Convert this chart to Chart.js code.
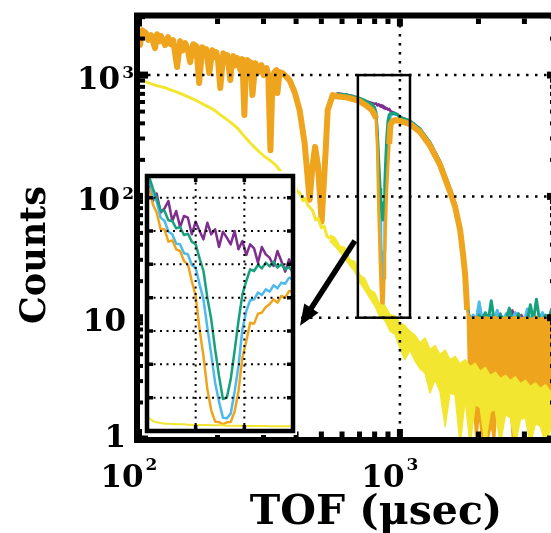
<!DOCTYPE html>
<html lang="en">
<head>
<meta charset="utf-8">
<title>TOF spectrum</title>
<script src="https://cdn.jsdelivr.net/npm/chart.js@4.4.0/dist/chart.umd.min.js"></script>
<style>
  html, body { margin: 0; padding: 0; overflow: hidden; background: #fff; }
  #wrap { position: relative; width: 551px; height: 533px; overflow: hidden; }
  #main { position: absolute; left: 0; top: 0; }
  #inset { position: absolute; left: 143px; top: 171px; }
</style>
</head>
<body>
<div id="wrap">
  <canvas id="main" width="562" height="533"></canvas>
  <canvas id="inset" width="154" height="264"></canvas>
</div>
<script>
// spectrum shared by the four sample curves (they sit on top of each other below ~550 us)
const tofSpec = [100, 100.9, 102.7, 106.4, 108.5, 111.2, 115.2, 117.3, 119.5, 121.5, 125.9, 129.3, 132, 135.2,
  140.0, 143.8, 147, 150.3, 153.5, 157.1, 161.3, 165.7, 170.1, 174.7, 177.5, 181.1, 185.9, 190.9, 193.5, 197.8,
  201, 204.9, 210.4, 214, 218.1, 223.9, 226.5, 229.9, 233.5, 238.2, 244.6, 249.0, 253.5, 256.5, 260.3, 263.5,
  267.3, 272.1, 279.4, 285.5, 294.6, 300.5, 308.0, 313, 319.0, 325, 330.5, 336.4, 339.4, 345.5, 354.8, 365,
  377.6, 394.7, 412.6, 431.2, 450.7, 462, 473, 485, 501.2, 519.4, 528.7, 552.6];
const countsSpec = [2259, 1766, 2344, 2216, 1950, 2134, 1668, 2175, 1900, 2094, 1766, 2055, 1800, 1941,
  1164, 1905, 1600, 1833, 1650, 1279, 1799, 1733, 859, 1700, 1450, 1637, 1039, 1606, 1400, 1546,
  1300, 782, 1517, 1300, 1461, 910, 1250, 1434, 1200, 1380, 1099, 1354, 469, 1150, 1329, 1100,
  1279, 685, 1255, 1050, 1209, 1000, 1142, 1000, 241, 950, 1058, 1099, 711, 1058, 1039, 980,
  910, 725, 515, 276, 94, 175, 256, 182, 62, 241, 515, 685];

// the resonance dip near 860 us, one curve per sample
const tofDip = [580, 620, 660, 700, 740, 780, 800, 810, 820, 830, 840, 845, 850, 855, 860, 865, 870, 875, 880, 890, 900, 910, 920, 940, 960, 980];
const orangeDip = [665, 655, 635, 610, 565, 515, 470, 440, 240, 70, 28, 19, 14, 11.5, 11, 14, 21, 33, 52, 110, 180, 270, 390, 420, 425, 422];
const blueDip = [690, 682, 662, 638, 600, 555, 525, 495, 300, 130, 65, 45, 30, 22, 19, 24, 35, 55, 85, 170, 290, 400, 460, 480, 478, 470];
const greenDip = [698, 688, 668, 645, 612, 575, 540, 480, 330, 190, 115, 94, 80, 70, 64, 72, 90, 125, 175, 300, 420, 470, 482, 485, 480, 472];
const purpleDip = [705, 692, 672, 640, 612, 590, 578, 585, 562, 575, 552, 566, 548, 560, 540, 552, 532, 545, 528, 536, 518, 526, 505, 495, 485, 475];

// falling edge after 1000 us
const tofShoulder = [1000, 1093, 1194, 1305, 1425, 1557, 1628, 1701, 1747, 1778, 1810];
const orangeShoulder = [420, 395, 340, 261, 182, 109, 82, 53, 33, 22.6, 11.6];
const upperShoulder = [450, 419, 360, 277, 193, 116, 87, 56, 35, 24, 12.3];

// noisy tail beyond the cut-off
const tofTail = [1810, 1858, 1909, 1960, 2013, 2067, 2123, 2181, 2239, 2299, 2361, 2425, 2490, 2557, 2626, 2697,
  2769, 2844, 2921, 2999, 3080, 3162, 3247, 3336, 3425, 3518, 3612, 3709, 3809, 3911, 4000];
const orangeTailTop = [11.6, 10, 9.8, 10.2, 10, 9.7, 10.1, 10, 9.8, 10.2, 10, 9.6, 10, 10.1, 9.8, 10,
  10.2, 9.7, 10, 9.9, 10.1, 9.7, 10, 10.2, 9.8, 10, 9.9, 10.1, 9.8, 10, 10];
const orangeTailBottom = [11.6, 1, 2.2, 0.9, 1.6, 0.9, 2.5, 1, 1.3, 0.9, 2, 1.1, 2.4, 1.7, 2.8, 1,
  2.3, 1.9, 2.6, 2.1, 2.4, 1.9, 2.2, 2.5, 2.0, 2.3, 1.9, 2.2, 2.4, 2.0, 2.2];
const blueTail = [12.3, 9.5, 10.5, 9.5, 13.5, 9.5, 9.8, 9.5, 10.5, 9.5, 11.5, 9.5, 9.8, 10.8, 9.5, 9.6,
  11, 9.5, 9.8, 9.5, 11.8, 9.5, 10.2, 9.5, 9.7, 11, 9.5, 9.8, 10.6, 9.5, 9.8];
const greenTail = [12.3, 9.5, 9.8, 9.5, 10.5, 9.5, 11, 9.5, 13.8, 9.5, 9.7, 10.6, 9.5, 9.8, 12, 9.5,
  9.6, 10.8, 9.5, 9.8, 9.5, 12.8, 9.5, 14.2, 9.6, 9.5, 10.5, 9.5, 11.5, 9.5, 10];
const purpleTail = [12.3, 9.5, 9.7, 9.5, 12.8, 9.5, 9.8, 10.5, 9.5, 9.7, 9.5, 10.8, 9.5, 9.6, 9.5, 11.5,
  9.5, 9.7, 10.5, 9.5, 9.6, 9.5, 10.8, 9.5, 9.7, 9.5, 10.2, 9.5, 11.8, 9.5, 9.7];

// open beam (yellow): clean line first, then a noisy band
const tofYellow = [100, 109.3, 118, 127, 138, 149, 160, 170.1, 182, 194.3, 205, 216.1, 227, 238.2, 251, 265,
  278, 292, 304, 316, 326, 336.4, 348, 362, 377.6, 386, 395, 404, 412.6, 425, 433, 445, 462, 475, 486, 500, 512, 525, 538.3];
const yellowCounts = [927, 859, 815, 782, 730, 685, 640, 600, 555, 515, 470, 434, 400, 366, 320, 281,
  252, 228, 212, 200, 190, 178, 162, 150, 137, 122, 126, 110, 107, 92, 96, 84, 77, 64, 66, 55, 57, 47, 45];
const tofBand = [538.3, 562.3, 587.9, 614.3, 642.4, 671.3, 702, 733.5, 766.8, 801.6, 837.8, 875.9, 915.3, 956.8,
  1000, 1045, 1093, 1142, 1194, 1248, 1305, 1363, 1425, 1490, 1557, 1628, 1701, 1778, 1858, 1943, 2031,
  2123, 2219, 2320, 2425, 2535, 2649, 2769, 2895, 3026, 3162, 3306, 3455, 3612, 3776, 3947, 4000];
const yellowBandTop = [48, 46, 39, 38, 30, 29, 22.6, 21, 17, 16, 12.8, 12.6, 10.6, 10.4,
  9.1, 8.6, 7.7, 7.2, 6.2, 6.8, 5.45, 5.9, 4.96, 5.4, 4.5, 4.8, 4.18, 4.5, 3.95, 4.2, 3.6,
  3.9, 3.33, 3.55, 3.15, 3.35, 3.03, 3.25, 2.86, 3.05, 2.7, 2.9, 2.61, 2.8, 2.46, 2.65, 2.41];
const yellowBandBottom = [43, 39, 35, 31, 27, 24, 19.5, 17, 14.5, 12.5, 10.2, 9.5, 7.8, 7.3,
  5.6, 4.5, 5.4, 4.4, 3.8, 3.5, 2.4, 3.1, 2.46, 1.27, 2.4, 2.3, 0.9, 2.11, 0.9, 1.92, 1.82,
  0.9, 1.68, 1.75, 0.9, 1.59, 1.5, 0.9, 1.45, 1.5, 0.9, 1.34, 1.27, 0.9, 1.2, 1.15, 1.15];

// inset: linear close-up of the dip
const insetTof = [792, 796, 800, 804, 808, 812, 816, 820, 824, 828, 832, 836, 840, 844, 848, 852, 856, 860, 864,
  868, 872, 876, 880, 884, 888, 892, 896, 900, 904, 908, 912, 916, 920, 924, 928, 932, 936, 940];
const insetOrange = [730, 680, 655, 605, 605, 568, 572, 545, 540, 510, 500, 450, 405, 305, 225, 125, 62, 28, 27,
  20, 26, 27, 58, 120, 220, 270, 325, 322, 352, 355, 372, 380, 395, 385, 405, 400, 420, 418];
const insetBlue = [755, 708, 688, 640, 630, 598, 590, 562, 560, 533, 530, 498, 490, 440, 395, 310, 230, 145, 88,
  40, 38, 52, 118, 195, 305, 360, 392, 395, 415, 408, 425, 418, 437, 428, 445, 442, 460, 455];
const insetGreen = [765, 728, 698, 662, 660, 632, 630, 608, 612, 588, 592, 568, 560, 518, 480, 400, 335, 245, 165,
  96, 100, 155, 240, 330, 410, 450, 485, 480, 498, 488, 505, 494, 508, 490, 500, 485, 492, 475];
const insetPurple = [740, 690, 712, 655, 668, 690, 630, 660, 612, 645, 640, 590, 628, 600, 575, 625, 590, 605, 552,
  598, 580, 560, 600, 545, 570, 528, 560, 548, 505, 552, 530, 520, 495, 540, 510, 478, 515, 490];
const insetYellow = [40, 30, 26, 24, 22, 22, 21, 20, 20, 20, 19, 19, 18, 18, 18, 18, 17, 17, 17,
  17, 16, 16, 16, 16, 16, 15, 15, 15, 15, 15, 15, 14, 14, 14, 14, 14, 14, 14];

const xTickValues = [100, 1000];
const xTickLabels = [['10', '2'], ['10', '3']];
const yTickValues = [1, 10, 100, 1000];
const yTickLabels = [['1', ''], ['10', ''], ['10', '2'], ['10', '3']];
const xTitle = 'TOF (\u03bcsec)';
const yTitle = 'Counts';

const ORANGE = '#EFA41E', BLUE = '#4DB9EC', GREEN = '#16A07B', PURPLE = '#7E2F8E', YELLOW = '#F2E630';
const SERIF = '"DejaVu Serif", "Liberation Serif", serif';

function pts(xs, ys) {
  return xs.map((v, i) => ({ x: v, y: ys[i] }));
}

function series(data, color, width, order, fill) {
  return {
    data: data, borderColor: color, backgroundColor: color, borderWidth: width,
    pointRadius: 0, tension: 0, order: order, fill: fill || false, borderJoinStyle: 'round'
  };
}

function drawPow(ctx, base, exp, x, baseline, supShift, align) {
  ctx.font = 'bold 31px ' + SERIF;
  const wb = ctx.measureText(base).width;
  ctx.font = 'bold 17px ' + SERIF;
  const we = exp ? ctx.measureText(exp).width + 2 : 0;
  let left;
  if (align === 'right') left = x - wb - we;
  else left = x - wb / 2;   // centred on the base digits
  ctx.textAlign = 'left';
  ctx.textBaseline = 'alphabetic';
  ctx.font = 'bold 31px ' + SERIF;
  ctx.fillText(base, left, baseline);
  if (exp) {
    ctx.font = 'bold 17px ' + SERIF;
    ctx.fillText(exp, left + wb + 2, baseline - supShift);
  }
}

const mainDecor = {
  id: 'mainDecor',
  afterDatasetsDraw(chart) {
    const ctx = chart.ctx, a = chart.chartArea, x = chart.scales.x, y = chart.scales.y;
    ctx.save();
    ctx.strokeStyle = '#000';
    ctx.fillStyle = '#000';

    // dotted grid on the decades
    ctx.lineWidth = 2.5;
    ctx.setLineDash([2.5, 6.5]);
    ctx.beginPath();
    [1000].forEach(v => { const p = x.getPixelForValue(v); ctx.moveTo(p, a.top); ctx.lineTo(p, a.bottom); });
    [10, 100, 1000].forEach(v => { const p = y.getPixelForValue(v); ctx.moveTo(a.left, p); ctx.lineTo(a.right, p); });
    ctx.stroke();
    ctx.setLineDash([]);

    // box around the zoomed region
    const bx0 = x.getPixelForValue(690), bx1 = x.getPixelForValue(1093);
    const by0 = y.getPixelForValue(1000), by1 = y.getPixelForValue(10);
    ctx.lineWidth = 2.5;
    ctx.strokeRect(bx0, by0, bx1 - bx0, by1 - by0);

    // arrow pointing at the inset
    const sx = x.getPixelForValue(672), sy = y.getPixelForValue(43);
    const tx = x.getPixelForValue(414), ty = y.getPixelForValue(8.6);
    const ang = Math.atan2(ty - sy, tx - sx), head = 21, half = 8.5;
    const c = Math.cos(ang), s = Math.sin(ang);
    ctx.lineWidth = 5.5;
    ctx.beginPath();
    ctx.moveTo(sx, sy);
    ctx.lineTo(tx - head * 0.8 * c, ty - head * 0.8 * s);
    ctx.stroke();
    ctx.beginPath();
    ctx.moveTo(tx, ty);
    ctx.lineTo(tx - head * c + half * s, ty - head * s - half * c);
    ctx.lineTo(tx - head * c - half * s, ty - head * s + half * c);
    ctx.closePath();
    ctx.fill();

    // heavy frame
    ctx.lineWidth = 6;
    ctx.strokeRect(a.left - 2, a.top - 0.5, a.right - a.left + 3, a.bottom - a.top + 1.5);

    // inward ticks
    const tick = (x0, y0, x1, y1, w) => {
      ctx.lineWidth = w;
      ctx.beginPath(); ctx.moveTo(x0, y0); ctx.lineTo(x1, y1); ctx.stroke();
    };
    for (let d = 100; d <= 1000; d *= 10) {
      for (let m = 1; m <= 9; m++) {
        const v = d * m;
        if (v >= 4000) break;
        const p = x.getPixelForValue(v);
        const len = m === 1 ? 8 : 5.5, w = m === 1 ? 6 : 5;
        tick(p, a.top + 2.5, p, a.top + 2.5 + len, w);
        tick(p, a.bottom - 2, p, a.bottom - 2 - len, w);
      }
    }
    for (let d = 1; d <= 1000; d *= 10) {
      for (let m = 1; m <= 9; m++) {
        const v = d * m;
        if (v > 3070) break;
        const p = y.getPixelForValue(v);
        const len = m === 1 ? 8 : 5, w = m === 1 ? 7 : 4;
        tick(a.left + 1, p, a.left + 1 + len, p, w);
        tick(a.right - 2, p, a.right - 2 - len, p, w);
      }
    }

    // tick labels
    yTickValues.forEach((v, i) => {
      const p = y.getPixelForValue(v);
      const lab = yTickLabels[i];
      const bl = v === 1 ? p + 8 : p + 13.5;
      drawPow(ctx, lab[0], lab[1], lab[1] ? 134 : 126, bl, 11, 'right');
    });
    xTickValues.forEach((v, i) => {
      const p = x.getPixelForValue(v);
      drawPow(ctx, xTickLabels[i][0], xTickLabels[i][1], p - 17, a.bottom + 48, 17, 'center');
    });

    // axis titles
    ctx.font = 'bold 41px ' + SERIF;
    ctx.textAlign = 'center';
    ctx.textBaseline = 'alphabetic';
    ctx.fillText(xTitle, 376, 524);
    ctx.translate(45, 255);
    ctx.rotate(-Math.PI / 2);
    ctx.font = 'bold 35px ' + SERIF;
    ctx.fillText(yTitle, 0, 0);
    ctx.restore();
  }
};

// the orange trace is drawn thin inside the narrow dip so the other samples show through
const orangeMain = series(pts(tofSpec, countsSpec).concat(pts(tofDip, orangeDip), pts(tofShoulder, orangeShoulder)), ORANGE, 6, 2);
orangeMain.segment = {
  borderWidth: ctx => (ctx.p0.parsed.x >= 805 && ctx.p1.parsed.x <= 915) ? 3 : undefined
};

new Chart(document.getElementById('main'), {
  type: 'line',
  data: {
    datasets: [
      series(pts(tofSpec, countsSpec).concat(pts(tofDip, purpleDip), pts(tofShoulder, upperShoulder), pts(tofTail, purpleTail)), PURPLE, 2.5, 5),
      series(pts(tofSpec, countsSpec).concat(pts(tofDip, blueDip), pts(tofShoulder, upperShoulder), pts(tofTail, blueTail)), BLUE, 3, 4),
      series(pts(tofSpec, countsSpec).concat(pts(tofDip, greenDip), pts(tofShoulder, upperShoulder), pts(tofTail, greenTail)), GREEN, 3, 3),
      orangeMain,
      series(pts(tofTail, orangeTailTop), ORANGE, 2, 2),
      series(pts(tofTail, orangeTailBottom), ORANGE, 1.5, 2, '-1'),
      series(pts(tofYellow, yellowCounts), YELLOW, 3, 1),
      series(pts(tofBand, yellowBandTop), YELLOW, 1.5, 1),
      series(pts(tofBand, yellowBandBottom), YELLOW, 1.5, 1, '-1')
    ]
  },
  options: {
    responsive: false,
    animation: false,
    devicePixelRatio: 1,
    events: [],
    layout: { padding: { left: 139, top: 16, right: 5, bottom: 94 } },
    scales: {
      x: { type: 'logarithmic', min: 100, max: 4000, display: false },
      y: { type: 'logarithmic', min: 1, max: 3070, display: false }
    },
    plugins: { legend: { display: false }, tooltip: { enabled: false } }
  },
  plugins: [mainDecor]
});

const insetDecor = {
  id: 'insetDecor',
  beforeDraw(chart) {
    const ctx = chart.ctx;
    ctx.save();
    ctx.fillStyle = '#fff';
    ctx.fillRect(0, 0, chart.width, chart.height);
    ctx.restore();
  },
  afterDatasetsDraw(chart) {
    const ctx = chart.ctx, a = chart.chartArea, x = chart.scales.x, y = chart.scales.y;
    const gx = [840, 890], gy = [100, 200, 300, 400, 500, 600, 700];
    ctx.save();
    ctx.strokeStyle = '#000';
    ctx.lineWidth = 2;
    ctx.setLineDash([2, 4.5]);
    ctx.beginPath();
    gx.forEach(v => { const p = x.getPixelForValue(v); ctx.moveTo(p, a.top); ctx.lineTo(p, a.bottom); });
    gy.forEach(v => { const p = y.getPixelForValue(v); ctx.moveTo(a.left, p); ctx.lineTo(a.right, p); });
    ctx.stroke();
    ctx.setLineDash([]);
    ctx.lineWidth = 4.5;
    ctx.strokeRect(a.left, a.top, a.right - a.left, a.bottom - a.top);
    ctx.lineWidth = 3.5;
    ctx.beginPath();
    gx.forEach(v => {
      const p = x.getPixelForValue(v);
      ctx.moveTo(p, a.top); ctx.lineTo(p, a.top + 6);
      ctx.moveTo(p, a.bottom); ctx.lineTo(p, a.bottom - 6);
    });
    gy.forEach(v => {
      const p = y.getPixelForValue(v);
      ctx.moveTo(a.left, p); ctx.lineTo(a.left + 6, p);
      ctx.moveTo(a.right, p); ctx.lineTo(a.right - 6, p);
    });
    ctx.stroke();
    ctx.restore();
  }
};

new Chart(document.getElementById('inset'), {
  type: 'line',
  data: {
    datasets: [
      series(pts(insetTof, insetPurple), PURPLE, 2.5, 5),
      series(pts(insetTof, insetBlue), BLUE, 2.5, 4),
      series(pts(insetTof, insetGreen), GREEN, 2.5, 3),
      series(pts(insetTof, insetOrange), ORANGE, 2.5, 2),
      series(pts(insetTof, insetYellow), YELLOW, 2, 1)
    ]
  },
  options: {
    responsive: false,
    animation: false,
    devicePixelRatio: 1,
    events: [],
    layout: { padding: { left: 4, top: 5, right: 4, bottom: 4 } },
    scales: {
      x: { type: 'linear', min: 790, max: 940, display: false },
      y: { type: 'linear', min: 0, max: 765, display: false }
    },
    plugins: { legend: { display: false }, tooltip: { enabled: false } }
  },
  plugins: [insetDecor]
});
</script>
</body>
</html>
